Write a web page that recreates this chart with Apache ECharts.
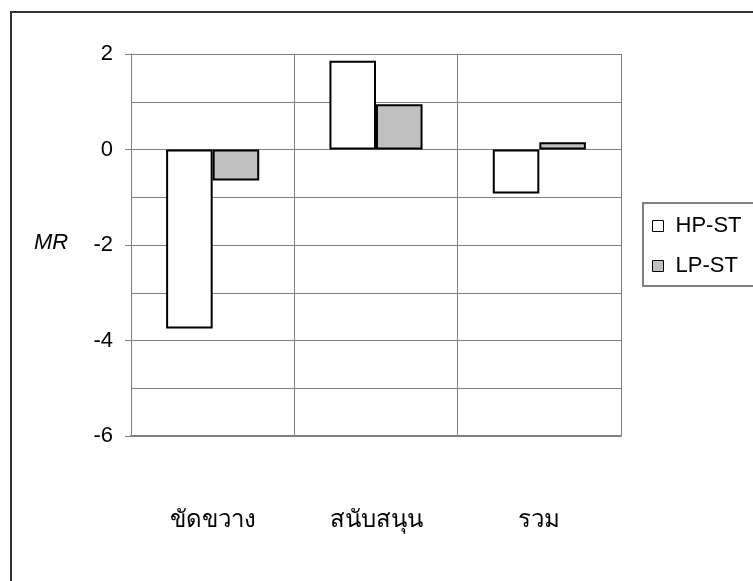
<!DOCTYPE html>
<html>
<head>
<meta charset="utf-8">
<script src="https://cdn.jsdelivr.net/npm/echarts@6/dist/echarts.min.js"></script>
<style>html,body{margin:0;padding:0;background:#fff}#c{width:753px;height:581px}</style>
</head>
<body>
<div id="c"></div>
<script>
var categories = ['ขัดขวาง', 'สนับสนุน', 'รวม'];
var hpST = [-3.75, 1.86, -0.92];
var lpST = [-0.65, 0.95, 0.15];
var seriesNames = ['HP-ST', 'LP-ST'];
var yMin = -6, yMax = 2, yStep = 2;
var yAxisTitle = 'MR';

var chart = echarts.init(document.getElementById('c'), null, {renderer: 'canvas'});
var font = 'Liberation Sans, Arial, sans-serif';
chart.setOption({
  backgroundColor: '#ffffff',
  animation: false,
  grid: {left: 131, top: 54, right: 132, bottom: 145},
  graphic: [
    {type: 'rect', shape: {x: 11, y: 12, width: 800, height: 700}, style: {fill: 'none', stroke: '#333333', lineWidth: 2}, z: -1},
    {type: 'text', left: 34, top: 232, style: {text: yAxisTitle, font: 'italic 22px ' + font, fill: '#000'}}
  ],
  legend: {
    orient: 'vertical',
    left: 643, top: 203,
    padding: [12, 30, 9, 9],
    itemWidth: 11, itemHeight: 11,
    itemGap: 18,
    borderColor: '#808080', borderWidth: 2,
    textStyle: {fontFamily: font, fontSize: 22, color: '#000', padding: [0, 0, 0, 7]},
    data: [
      {name: seriesNames[0], icon: 'rect', itemStyle: {color: '#ffffff', borderColor: '#000', borderWidth: 1}},
      {name: seriesNames[1], icon: 'rect', itemStyle: {color: '#c0c0c0', borderColor: '#000', borderWidth: 1}}
    ]
  },
  xAxis: {
    type: 'category',
    data: categories,
    position: 'bottom',
    axisLine: {onZero: false, lineStyle: {color: '#808080', width: 2}},
    axisTick: {show: false},
    splitLine: {show: true, lineStyle: {color: '#808080', width: 1}},
    axisLabel: {fontFamily: font, fontSize: 24, color: '#000', margin: 72}
  },
  yAxis: {
    type: 'value',
    min: yMin, max: yMax, interval: yStep,
    axisLine: {show: true, lineStyle: {color: '#808080', width: 1}},
    axisTick: {show: true, length: 6, lineStyle: {color: '#808080'}},
    minorTick: {show: false, splitNumber: 2},
    splitLine: {show: true, lineStyle: {color: '#808080', width: 1}},
    minorSplitLine: {show: true, lineStyle: {color: '#808080', width: 1}},
    axisLabel: {fontFamily: font, fontSize: 22, color: '#000', margin: 18}
  },
  series: [
    {name: seriesNames[0], type: 'bar', data: hpST, barGap: '0%', barCategoryGap: '43%',
     itemStyle: {color: '#ffffff', borderColor: '#000000', borderWidth: 2}},
    {name: seriesNames[1], type: 'bar', data: lpST, barGap: '0%', barCategoryGap: '43%',
     itemStyle: {color: '#c0c0c0', borderColor: '#000000', borderWidth: 2}}
  ]
});
</script>
</body>
</html>
